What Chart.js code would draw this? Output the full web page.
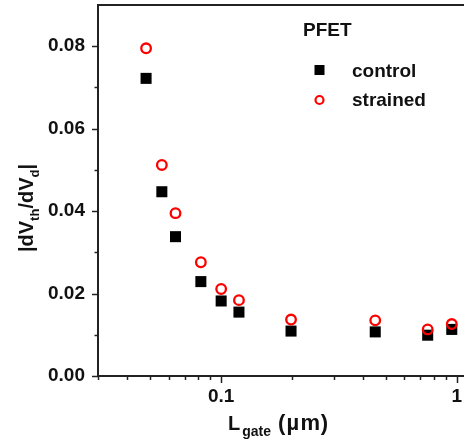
<!DOCTYPE html>
<html>
<head>
<meta charset="UTF-8" />
<title>PFET |dVth/dVd| vs Lgate</title>
<script src="https://cdn.jsdelivr.net/npm/chart.js"></script>
<style>
  html, body { margin: 0; padding: 0; background: #fff; overflow: hidden; }
  #wrap { width: 464px; height: 441px; position: relative; }
</style>
</head>
<body>
<div id="wrap"><canvas id="chart"></canvas></div>
<script>
// data
const lgate = [0.048, 0.056, 0.064, 0.082, 0.1, 0.119, 0.198, 0.451, 0.753, 0.953];
const controlVals = [0.0722, 0.0447, 0.0338, 0.0229, 0.0182, 0.0155, 0.0109, 0.0107, 0.0099, 0.0113];
const strainedVals = [0.0795, 0.0512, 0.0395, 0.0276, 0.0211, 0.0184, 0.0137, 0.0135, 0.0113, 0.0126];

const yTicks = [0, 0.02, 0.04, 0.06, 0.08];
const yMinorTicks = [0.01, 0.03, 0.05, 0.07];
const xTicks = [0.1, 1];
const xTickLabels = ["0.1", "1"];
const xMinorTicks = [0.03, 0.04, 0.05, 0.06, 0.07, 0.08, 0.09, 0.2, 0.3, 0.4, 0.5, 0.6, 0.7, 0.8, 0.9];

const FONT = "'Liberation Sans', Arial, sans-serif";
const INK = "#111";

const toPoints = (xs, ys) => xs.map((x, i) => ({ x, y: ys[i] }));

// ticks, frame, x labels, titles and the legend box
const decor = {
  id: "decor",
  afterDraw(chart) {
    const { ctx, chartArea, scales } = chart;
    const x = scales.x, y = scales.y;
    ctx.save();
    ctx.strokeStyle = "#222";
    ctx.lineWidth = 2;

    // top frame line
    ctx.beginPath();
    ctx.moveTo(chartArea.left - 1, chartArea.top);
    ctx.lineTo(chartArea.right + 2, chartArea.top);
    ctx.stroke();

    ctx.lineWidth = 1.5;
    const tickY = (v, len) => {
      const py = Math.round(y.getPixelForValue(v)) + 0.5;
      ctx.beginPath();
      ctx.moveTo(chartArea.left - len, py);
      ctx.lineTo(chartArea.left, py);
      ctx.stroke();
    };
    const tickX = (v, len) => {
      const px = Math.round(x.getPixelForValue(v)) + 0.5;
      ctx.beginPath();
      ctx.moveTo(px, chartArea.bottom);
      ctx.lineTo(px, chartArea.bottom + len);
      ctx.stroke();
    };
    yTicks.forEach(v => tickY(v, 6));
    yMinorTicks.forEach(v => tickY(v, 3.5));
    xTicks.forEach(v => tickX(v, 7));
    xMinorTicks.forEach(v => tickX(v, 4));

    ctx.fillStyle = INK;
    // x tick labels
    ctx.font = `bold 19px ${FONT}`;
    ctx.textAlign = "center";
    ctx.textBaseline = "alphabetic";
    xTicks.forEach((v, i) => ctx.fillText(xTickLabels[i], x.getPixelForValue(v), chartArea.bottom + 26));

    // text with subscripts, drawn as runs
    ctx.textAlign = "left";
    const runs = (parts) => parts.map(p => {
      ctx.font = `bold ${p.size}px ${FONT}`;
      return { ...p, w: ctx.measureText(p.t).width + (p.gap || 0) };
    });
    const drawRuns = (parts, startX, baseY) => {
      let cx = startX;
      parts.forEach(p => {
        ctx.font = `bold ${p.size}px ${FONT}`;
        ctx.fillText(p.t, cx, baseY + (p.dy || 0));
        cx += p.w;
      });
    };

    // x title: L_gate (µm)
    const xt = runs([
      { t: "L", size: 20, gap: 2 },
      { t: "gate", size: 14, dy: 6, gap: 1 },
      { t: " (", size: 22, gap: 1 },
      { t: "\u00b5", size: 22, gap: 1.5 },
      { t: "m", size: 22, gap: 0.5 },
      { t: ")", size: 22 }
    ]);
    drawRuns(xt, 228, 430);

    // y title: |dV_th/dV_d|
    const yt = runs([
      { t: "|dV", size: 20 },
      { t: "th", size: 13, dy: 6 },
      { t: "/dV", size: 20 },
      { t: "d", size: 13, dy: 6 },
      { t: "|", size: 20 }
    ]);
    const yw = yt.reduce((s, p) => s + p.w, 0);
    ctx.save();
    ctx.translate(33, 208);
    ctx.rotate(-Math.PI / 2);
    drawRuns(yt, -yw / 2, 0);
    ctx.restore();

    // legend
    ctx.font = `bold 19px ${FONT}`;
    ctx.fillText("PFET", 303, 36);
    ctx.fillText("control", 352, 77);
    ctx.fillText("strained", 352, 106);
    ctx.fillStyle = "#000";
    ctx.fillRect(314.5, 65, 10, 10);
    ctx.beginPath();
    ctx.strokeStyle = "#ff0000";
    ctx.lineWidth = 2.2;
    ctx.arc(319.5, 100, 4, 0, Math.PI * 2);
    ctx.stroke();
    ctx.restore();
  }
};

new Chart(document.getElementById("chart"), {
  type: "scatter",
  data: {
    datasets: [
      {
        label: "control",
        data: toPoints(lgate, controlVals),
        pointStyle: "rect",
        pointRadius: 7.8,
        pointHoverRadius: 7.8,
        backgroundColor: "#000",
        borderColor: "#000",
        borderWidth: 0,
        order: 1
      },
      {
        label: "strained",
        data: toPoints(lgate, strainedVals),
        pointStyle: "circle",
        pointRadius: 4.8,
        pointHoverRadius: 4.8,
        backgroundColor: "rgba(255,255,255,0)",
        borderColor: "#ff0000",
        borderWidth: 2.3,
        order: 0
      }
    ]
  },
  options: {
    responsive: true,
    maintainAspectRatio: false,
    animation: false,
    events: [],
    layout: { autoPadding: false, padding: { top: 5, right: 0, left: 0, bottom: 0 } },
    plugins: { legend: { display: false }, tooltip: { enabled: false } },
    scales: {
      x: {
        type: "logarithmic",
        min: 0.03,
        max: 1.074,
        grid: { display: false, drawTicks: false },
        border: { display: true, color: "#222", width: 2 },
        afterBuildTicks: (s) => { s.ticks = xTicks.map(v => ({ value: v })); },
        afterFit: (s) => { s.height = 65; s.paddingLeft = 0; s.paddingRight = 0; },
        ticks: { display: false }
      },
      y: {
        min: 0,
        max: 0.09,
        grid: { display: false, drawTicks: false },
        border: { display: true, color: "#222", width: 2 },
        afterBuildTicks: (s) => { s.ticks = yTicks.map(v => ({ value: v })); },
        afterFit: (s) => { s.width = 98; s.paddingTop = 0; s.paddingBottom = 0; },
        ticks: {
          padding: 13,
          color: INK,
          font: { family: FONT, size: 19, weight: "bold" },
          callback: (v) => v.toFixed(2)
        }
      }
    }
  },
  plugins: [decor]
});
</script>
</body>
</html>
